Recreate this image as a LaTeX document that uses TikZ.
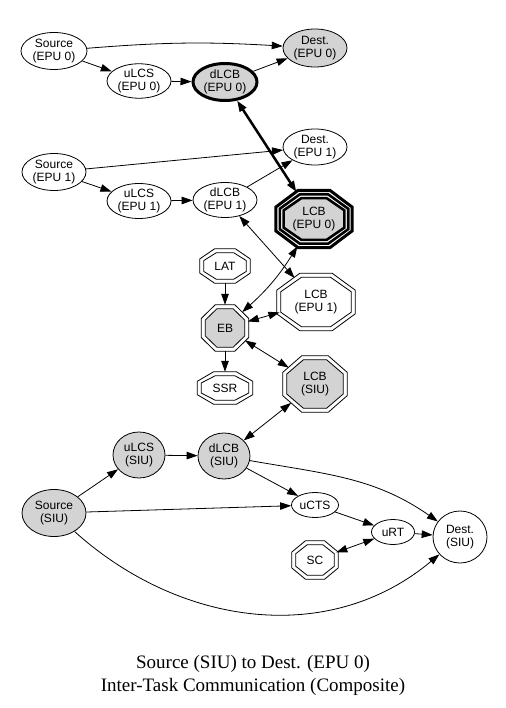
\documentclass[tikz,border=0pt]{standalone}
\usepackage{fontspec}
\setmainfont{Liberation Serif}
\setsansfont{Liberation Sans}
\usetikzlibrary{arrows.meta, shapes.geometric, calc}
\definecolor{nodegray}{RGB}{211,211,211}
\pgfdeclarelayer{back}
\pgfsetlayers{back,main}
\tikzset{
	tri/.tip={Triangle[length=11pt, width=7.5pt]},
	lbl/.style={font=\sffamily\fontsize{12}{13.5}\selectfont, align=center, inner sep=0pt},
	% ellipses (width, height)
	oval/.style 2 args={lbl, ellipse, draw, line width=0.8pt, fill=white, minimum width=#1, minimum height=#2},
	gray oval/.style 2 args={oval={#1}{#2}, fill=nodegray},
	% octagons: an invisible ellipse, the rings come later
	octo/.style 2 args={lbl, ellipse, minimum width=#1, minimum height=#2},
	link/.style={-tri, line width=0.8pt},
	duplex/.style={tri-tri, line width=0.8pt}
}
% octagon ring round a node: [options]{node}{inset}
\newcommand\octring[3][]{%
	\path[#1] let \p3=(#2.center), \p1=($(#2.east)-(#2.center)$), \p2=($(#2.north)-(#2.center)$),
		\n1={\x1-#3}, \n2={\y2-#3} in
		($(\p3)+({\n1*1pt},{0.4142*\n2*1pt})$) -- ($(\p3)+({0.4142*\n1*1pt},{\n2*1pt})$)
		-- ($(\p3)+({-0.4142*\n1*1pt},{\n2*1pt})$) -- ($(\p3)+({-\n1*1pt},{0.4142*\n2*1pt})$)
		-- ($(\p3)+({-\n1*1pt},{-0.4142*\n2*1pt})$) -- ($(\p3)+({-0.4142*\n1*1pt},{-\n2*1pt})$)
		-- ($(\p3)+({0.4142*\n1*1pt},{-\n2*1pt})$) -- ($(\p3)+({\n1*1pt},{-0.4142*\n2*1pt})$) -- cycle;}

\begin{document}
\begin{tikzpicture}[x=1pt, y=1pt]
	\useasboundingbox (0,0) rectangle (505,-708);
	
	% EPU 0
	\node[oval={66}{37}] (src0) at (54,-51) {Source\\(EPU 0)};
	\node[gray oval={64}{38}] (dst0) at (315,-48) {Dest.\\(EPU 0)};
	\node[oval={64}{34}] (ulcs0) at (139,-81) {uLCS\\(EPU 0)};
	\node[gray oval={64}{37}, line width=3pt] (dlcb0) at (225,-82) {dLCB\\(EPU 0)};
	
	% EPU 1
	\node[oval={64}{36}] (dst1) at (315,-147) {Dest.\\(EPU 1)};
	\node[oval={64}{37}] (src1) at (54,-172) {Source\\(EPU 1)};
	\node[oval={64}{35}] (ulcs1) at (139,-201) {uLCS\\(EPU 1)};
	\node[oval={64}{35}] (dlcb1) at (225,-200) {dLCB\\(EPU 1)};
	
	% LCBs and EB
	\node[octo={79}{60}] (lcb0) at (314,-219) {LCB\\(EPU 0)};
	\node[octo={50}{34}] (lat) at (225,-266) {LAT};
	\node[octo={78}{57}] (lcb1) at (316,-302) {LCB\\(EPU 1)};
	\node[octo={47}{46}] (eb) at (225,-328) {EB};
	\node[octo={55}{32}] (ssr) at (225,-388) {SSR};
	\node[octo={64}{56}] (lcbs) at (315,-384) {LCB\\(SIU)};
	
	% SIU
	\node[gray oval={52}{46}] (ulcss) at (139,-455) {uLCS\\(SIU)};
	\node[gray oval={52}{46}] (dlcbs) at (224,-456) {dLCB\\(SIU)};
	\node[gray oval={64}{47}] (srcs) at (54,-513) {Source\\(SIU)};
	\node[oval={47}{25}] (ucts) at (315,-505) {uCTS};
	\node[oval={43}{25}] (urt) at (393,-532) {uRT};
	\node[oval={54}{52}] (dsts) at (460,-537) {Dest.\\(SIU)};
	\node[octo={46}{38}] (sc) at (315,-560) {SC};
	
	% rings
	\begin{pgfonlayer}{back}
		\foreach \o in {lat, lcb1, ssr, sc}{\octring[draw, line width=0.8pt]{\o}{0pt} \octring[draw, line width=0.8pt, fill=white]{\o}{4pt}}
		\foreach \o in {eb, lcbs}{\octring[draw, line width=0.8pt]{\o}{0pt} \octring[draw, line width=0.8pt, fill=nodegray]{\o}{4pt}}
		\octring[draw, line width=3pt]{lcb0}{1.5pt}
		\octring[draw, line width=2.6pt]{lcb0}{5.5pt}
		\octring[draw, line width=2.6pt, fill=nodegray]{lcb0}{9.3pt}
	\end{pgfonlayer}
	
	% Edges
	\draw[link] (src0) to[bend left=4] (dst0);
	\draw[link] (src1) -- (dst1);
	\foreach \a/\b in {src0/ulcs0, ulcs0/dlcb0, dlcb0/dst0, src1/ulcs1, ulcs1/dlcb1, dlcb1/dst1,
		lat/eb, eb/ssr, srcs/ulcss, ulcss/dlcbs, srcs/ucts, dlcbs/ucts, ucts/urt, urt/dsts}
		{\draw[link] (\a) -- (\b);}
	\foreach \a/\b in {dlcb1/lcb1, eb/lcb1, eb/lcbs, dlcbs/lcbs, sc/urt}
		{\draw[duplex] (\a) -- (\b);}
	\draw[duplex] (eb) to[bend right=8] (lcb0);
	\draw[tri-tri, line width=2.5pt] (dlcb0) -- (lcb0);
	\draw[link] (dlcbs) to[out=-10, in=145] (dsts);
	\draw[link] (srcs) to[out=-42, in=-140] (dsts);
	
	% Caption
	\node[font=\rmfamily\fontsize{19}{23}\selectfont, align=center] (title) at (253,-675)
		{Source (SIU) to Dest. (EPU 0)\\Inter-Task Communication (Composite)};
\end{tikzpicture}
\end{document}
